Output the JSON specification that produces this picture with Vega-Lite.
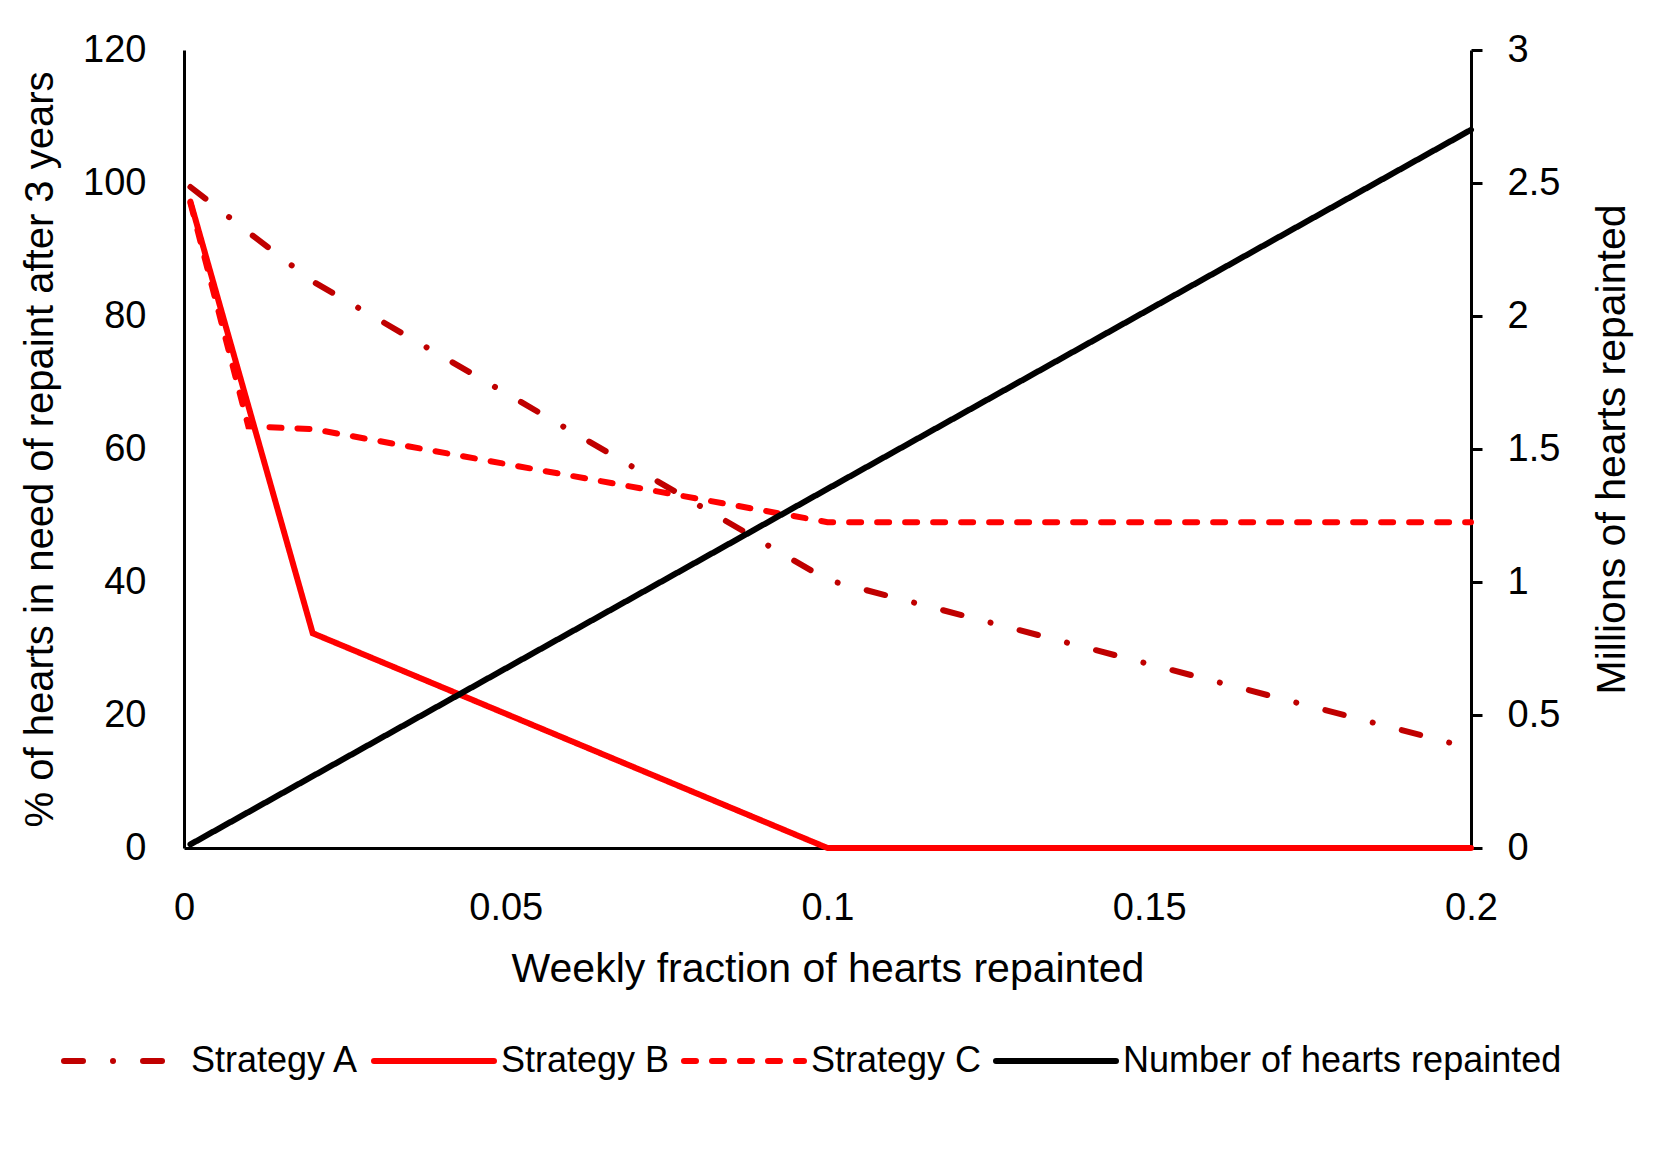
{
  "$schema": "https://vega.github.io/schema/vega-lite/v6.json",
  "width": 1287,
  "height": 798,
  "autosize": "none",
  "padding": {"left": 184, "top": 50, "right": 187, "bottom": 317},
  "background": "white",
  "config": {
    "view": {"stroke": null},
    "font": "Liberation Sans",
    "axis": {
      "grid": false,
      "domainColor": "#000000",
      "domainWidth": 3,
      "labelColor": "#000000",
      "titleColor": "#000000",
      "labelFont": "Liberation Sans",
      "titleFont": "Liberation Sans",
      "labelFontSize": 38,
      "titleFontSize": 41,
      "titleFontWeight": "normal"
    },
    "legend": {
      "labelFont": "Liberation Sans",
      "labelFontSize": 36,
      "labelColor": "#000000",
      "labelLimit": 0
    }
  },
  "data": {
    "values": [
      {"x": 0.001, "series": "Strategy A", "value": 99.4},
      {"x": 0.01, "series": "Strategy A", "value": 92.6},
      {"x": 0.02, "series": "Strategy A", "value": 85.2},
      {"x": 0.05, "series": "Strategy A", "value": 68.4},
      {"x": 0.1, "series": "Strategy A", "value": 40.3},
      {"x": 0.2, "series": "Strategy A", "value": 15},
      {"x": 0.001, "series": "Strategy B", "value": 97.2},
      {"x": 0.02, "series": "Strategy B", "value": 32.3},
      {"x": 0.1, "series": "Strategy B", "value": 0},
      {"x": 0.2, "series": "Strategy B", "value": 0},
      {"x": 0.001, "series": "Strategy C", "value": 97},
      {"x": 0.01, "series": "Strategy C", "value": 63.4},
      {"x": 0.02, "series": "Strategy C", "value": 63},
      {"x": 0.1, "series": "Strategy C", "value": 49},
      {"x": 0.2, "series": "Strategy C", "value": 49},
      {"x": 0.001, "series": "Number of hearts repainted", "value": 0.0135},
      {"x": 0.05, "series": "Number of hearts repainted", "value": 0.675},
      {"x": 0.1, "series": "Number of hearts repainted", "value": 1.35},
      {"x": 0.2, "series": "Number of hearts repainted", "value": 2.7}
    ]
  },
  "encoding": {
    "x": {
      "field": "x",
      "type": "quantitative",
      "scale": {"domain": [0, 0.2], "nice": false, "zero": false},
      "axis": {
        "title": "Weekly fraction of hearts repainted",
        "values": [0, 0.05, 0.1, 0.15, 0.2],
        "format": "~g",
        "ticks": false,
        "tickSize": 0,
        "labelPadding": 41,
        "titlePadding": 22,
        "labelFlush": false
      }
    },
    "color": {
      "field": "series",
      "type": "nominal",
      "scale": {
        "domain": ["Strategy A", "Strategy B", "Strategy C", "Number of hearts repainted"],
        "range": ["#C00000", "#FF0000", "#FF0000", "#000000"]
      },
      "legend": {
        "title": null,
        "orient": "none",
        "direction": "horizontal",
        "legendX": -123,
        "legendY": 948,
        "symbolType": "stroke",
        "symbolSize": 14400,
        "symbolStrokeWidth": 6,
        "labelOffset": 4,
        "columnPadding": 2,
        "labelLimit": 0,
        "encode": {"symbols": {"update": {"strokeCap": {"value": "round"}}}}
      }
    },
    "strokeDash": {
      "field": "series",
      "type": "nominal",
      "scale": {
        "domain": ["Strategy A", "Strategy B", "Strategy C", "Number of hearts repainted"],
        "range": [[19, 30, 0.01, 30], [1, 0], [12, 16], [1, 0]]
      },
      "legend": {
        "title": null,
        "orient": "none",
        "direction": "horizontal",
        "legendX": -123,
        "legendY": 948,
        "symbolType": "stroke",
        "symbolSize": 14400,
        "symbolStrokeWidth": 6,
        "labelOffset": 4,
        "columnPadding": 2,
        "labelLimit": 0,
        "encode": {"symbols": {"update": {"strokeCap": {"value": "round"}}}}
      }
    }
  },
  "layer": [
    {
      "transform": [{"filter": "datum.series !== 'Number of hearts repainted'"}],
      "mark": {"type": "line", "strokeWidth": 6, "strokeCap": "round", "clip": false},
      "encoding": {
        "y": {
          "field": "value",
          "type": "quantitative",
          "scale": {"domain": [0, 120], "nice": false},
          "axis": {
            "orient": "left",
            "title": "% of hearts in need of repaint after 3 years",
            "titleFontSize": 40,
            "values": [0, 20, 40, 60, 80, 100, 120],
            "ticks": false,
            "tickSize": 0,
            "labelPadding": 38,
            "titlePadding": 22,
            "labelFlush": false
          }
        }
      }
    },
    {
      "transform": [{"filter": "datum.series === 'Number of hearts repainted'"}],
      "mark": {"type": "line", "strokeWidth": 6, "strokeCap": "round", "clip": false},
      "encoding": {
        "y": {
          "field": "value",
          "type": "quantitative",
          "scale": {"domain": [0, 3], "nice": false},
          "axis": {
            "orient": "right",
            "title": "Millions of hearts repainted",
            "values": [0, 0.5, 1, 1.5, 2, 2.5, 3],
            "format": "~g",
            "ticks": true,
            "tickSize": 11,
            "tickWidth": 3,
            "tickColor": "#000000",
            "labelPadding": 25,
            "titlePadding": 33,
            "titleAngle": 270,
            "titleBaseline": "top",
            "labelFlush": false
          }
        }
      }
    }
  ],
  "resolve": {"scale": {"y": "independent"}}
}
